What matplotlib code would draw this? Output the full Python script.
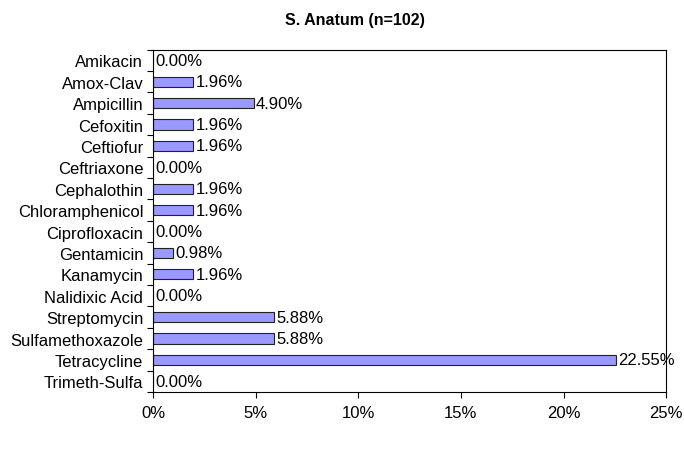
import matplotlib
matplotlib.use("Agg")
import matplotlib.pyplot as plt
import numpy as np
from matplotlib.ticker import FuncFormatter, FixedLocator

plt.rcParams['font.family'] = ['Liberation Sans', 'DejaVu Sans']

drugs = ["Amikacin", "Amox-Clav", "Ampicillin", "Cefoxitin", "Ceftiofur",
         "Ceftriaxone", "Cephalothin", "Chloramphenicol", "Ciprofloxacin",
         "Gentamicin", "Kanamycin", "Nalidixic Acid", "Streptomycin",
         "Sulfamethoxazole", "Tetracycline", "Trimeth-Sulfa"]
values = [0.00, 1.96, 4.90, 1.96, 1.96, 0.00, 1.96, 1.96, 0.00, 0.98,
          1.96, 0.00, 5.88, 5.88, 22.55, 0.00]
xticks = [0, 5, 10, 15, 20, 25]

fig = plt.figure(figsize=(6.84, 4.52), dpi=100)
ax = fig.add_axes([0.2237, 0.1305, 0.974 - 0.2237, 0.888 - 0.1305])

y = np.arange(len(drugs))
ax.barh(y, values, height=0.47, color="#9999FF", edgecolor="#222222", linewidth=0.8)
for yi, v in zip(y, values):
    ax.text(v + 0.12, yi, f"{v:.2f}%", va="center", ha="left", fontsize=12)

ax.set_xlim(0, 25)
ax.set_ylim(len(drugs) - 0.5, -0.5)
ax.set_xticks(xticks)
ax.xaxis.set_major_formatter(FuncFormatter(lambda v, p: f"{v:.0f}%"))
ax.set_yticks(y)
ax.set_yticklabels(drugs, fontsize=12)
ax.yaxis.set_minor_locator(FixedLocator(np.arange(-0.5, len(drugs), 1.0)))
ax.tick_params(axis='y', which='major', length=0, pad=7)
ax.tick_params(axis='y', which='minor', length=4, width=0.8, direction='out')
ax.tick_params(axis='x', length=4, width=0.8, direction='out', labelsize=12, pad=5)
for s in ax.spines.values():
    s.set_linewidth(0.8)
    s.set_color("black")

fig.text(0.519, 0.955, "S. Anatum (n=102)", fontsize=11.5, fontweight="bold",
         ha="center", va="center")
fig.savefig("out.png", dpi=100)
